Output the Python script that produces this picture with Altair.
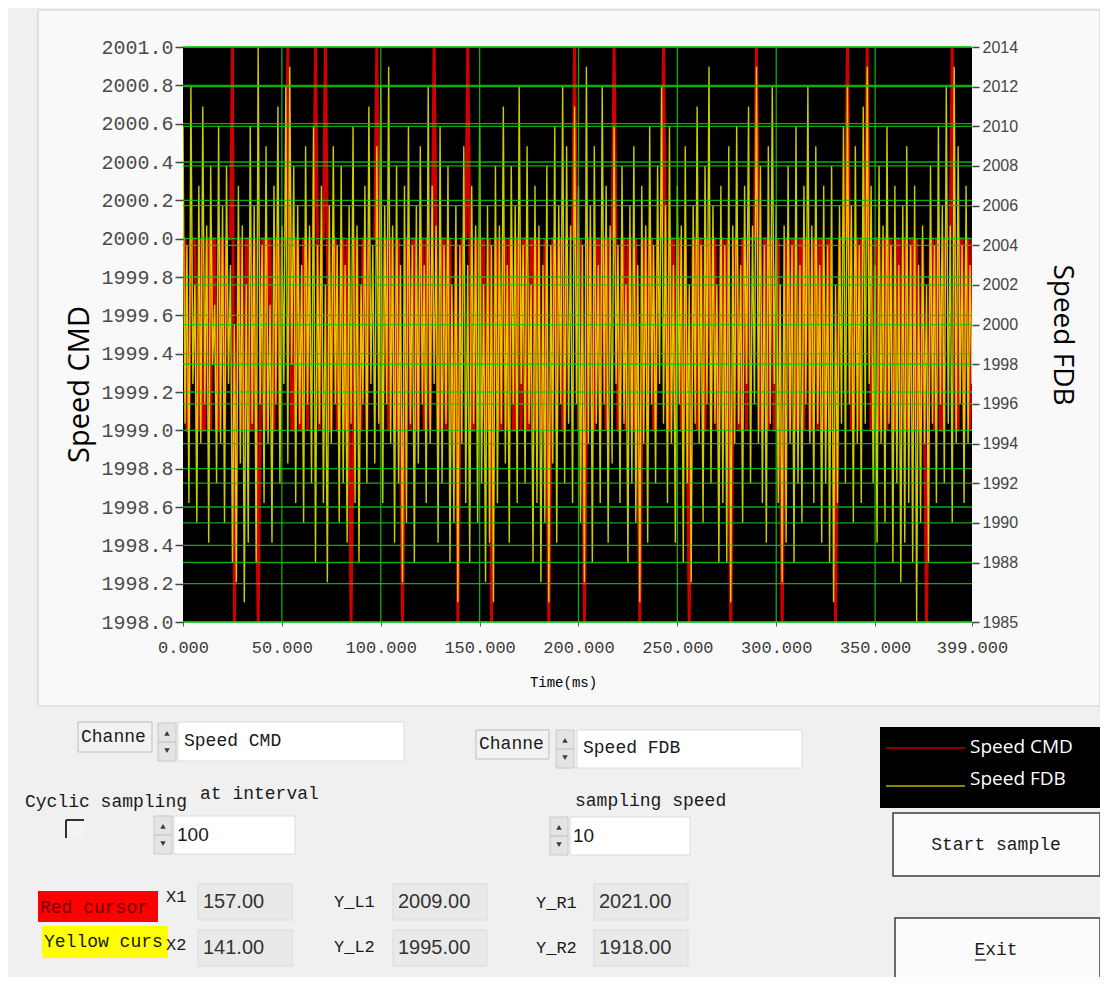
import altair as alt
import pandas as pd

# ---------------- data ----------------
time_ms = list(range(400))

speed_cmd = [
    2000,2000,1999,1999,2000,2000,2000,1999,1999,2000,1999,1999,2000,2000,1999,2000,2000,1999,1999,2000,
    2000,1999,2000,2000,2000,2001,1998,1999,2000,2000,1999,1999,2000,2000,1999,1999,2000,1999,1998,1999,
    2000,2000,1999,2000,2000,1999,1999,2000,2000,1999,2000,2000,2000,2001,2000,1999,1999,2000,2000,1999,
    1999,2000,2000,1999,2000,2000,2000,2001,2000,1999,2000,2000,2001,2000,1999,1999,2000,2000,1999,1999,
    2000,2000,1999,2000,1999,1998,1999,2000,2000,1999,1999,2000,2000,1999,2000,2000,2000,2000,2001,2000,
    1999,1999,2000,2000,1999,2000,2000,1999,1999,2000,1999,1998,1999,2000,2000,1999,2000,2000,1999,1999,
    2000,2000,1999,2000,2000,1999,2000,2001,2000,1999,1999,2000,2000,1999,2000,2000,1999,1999,2000,1998,
    1999,2000,2000,2000,2001,2000,1999,1999,2000,2000,1999,2000,2000,1999,1999,2000,1998,1999,2000,2000,
    1999,1999,2000,2000,1999,2000,2000,1999,1999,2000,2000,1999,2000,2000,1999,1999,2000,2000,1999,2000,
    2000,1999,1999,2000,1999,1998,1999,2000,2000,1999,2000,2000,1999,1999,2000,2000,2000,2000,2001,2000,
    1999,2000,1999,1998,1999,2000,2000,1999,1999,2000,2000,1999,2000,2000,1999,2000,2000,2000,2001,2000,
    1999,1999,2000,2000,1999,2000,2000,1999,1999,2000,1999,1998,1999,2000,2000,1999,2000,2000,1999,1999,
    2000,2000,2000,2001,2000,1999,1999,2000,2000,1999,2000,2000,1999,1999,2000,1999,1998,1999,2000,2000,
    1999,2000,2000,1999,1999,2000,2000,1999,2000,2000,1999,1999,2000,2000,1999,2000,1999,1998,1999,2000,
    2000,1999,1999,2000,2000,1999,2000,2000,2000,2000,2001,2000,1999,1999,2000,2000,1999,2000,2000,1999,
    1999,2000,1999,1998,1999,2000,2000,1999,2000,2000,1999,1999,2000,2000,1999,2000,2000,1999,1999,2000,
    2000,1999,2000,2000,1999,1999,2000,2000,1999,1999,1998,1999,2000,2000,2000,2000,2001,2000,1999,1999,
    2000,2000,1999,2000,2000,2000,2001,2000,1999,1999,2000,2000,1999,1999,2000,2000,1999,2000,2000,1999,
    1999,2000,2000,1999,2000,2000,1999,1999,2000,2000,1999,2000,1999,1999,2000,1999,1998,1999,2000,2000,
    1999,2000,2000,1999,1999,2000,2000,2000,2000,2001,2000,1999,1999,2000,2000,1999,2000,2000,1999,2000,
]

speed_fdb = [
    2010,1995,2004,1991,2012,1997,2002,1990,2007,1994,2011,1996,2005,1989,2008,1998,2001,1992,2010,1994,
    2006,1990,2008,1997,2003,1988,2000,1987,2007,1993,2005,1986,2002,1989,2010,1995,2006,1988,2014,1996,
    2004,1991,2009,1994,2001,1989,2007,1996,2011,1992,2005,1997,2012,1993,2013,1998,2008,1991,2006,1995,
    2003,1990,2009,1996,2005,1992,2010,1988,2004,1995,2007,1991,2002,1987,2006,1994,2009,1996,2004,1990,
    2008,1992,2003,1989,2006,1995,2010,1991,2005,1988,2002,1996,2007,1992,2011,1997,2004,1993,2009,1995,
    2012,1991,2006,1996,2013,1994,2005,1989,2008,1992,2003,1987,2007,1990,2010,1995,2004,1988,2006,1993,
    2009,1996,2003,1991,2012,1994,2007,1997,2005,1989,2010,1992,2004,1995,2008,1988,2002,1990,2006,1986,
    2004,1994,2009,1991,2003,1988,2007,1995,2005,1990,2010,1992,2002,1987,2006,1989,2004,1986,2008,1991,
    2005,1995,2011,1993,2003,1989,2008,1996,2006,1991,2012,1997,2004,1992,2009,1995,2002,1988,2007,1991,
    2005,1987,2003,1990,2008,1986,2004,1993,2010,1989,2006,1996,2012,1992,2009,1995,2005,1991,2011,1996,
    2007,1990,2004,1987,2013,1994,2006,1988,2009,1995,2003,1991,2012,1996,2007,1989,2005,1993,2010,1997,
    2004,1991,2008,1995,2002,1988,2006,1992,2009,1990,2003,1986,2007,1994,2005,1989,2010,1996,2004,1992,
    2008,1997,2012,1995,2006,1991,2010,1994,2003,1989,2007,1996,2005,1988,2009,1992,2002,1987,2006,1995,
    2011,1994,2004,1990,2008,1996,2013,1992,2006,1995,2002,1988,2007,1991,2004,1988,2009,1986,2005,1994,
    2010,1995,2003,1990,2007,1997,2011,1992,2005,1996,2013,1994,2008,1991,2004,1989,2009,1995,2012,1997,
    2006,1991,2002,1987,2005,1989,2008,1994,2004,1988,2010,1992,2003,1990,2007,1996,2012,1994,2005,1991,
    2009,1995,2003,1989,2007,1992,2004,1988,2008,1986,2002,1991,2006,1995,2010,1992,2012,1996,2006,1990,
    2009,1994,2004,1991,2011,1995,2013,1997,2007,1992,2003,1989,2008,1994,2005,1990,2010,1995,2004,1988,
    2007,1992,2003,1987,2006,1989,2009,1991,2004,1988,2007,1985,2003,1990,2005,1994,2002,1988,2008,1995,
    2004,1991,2010,1996,2006,1992,2012,1995,2005,1990,2013,1994,2009,1996,2004,1991,2007,1994,2003,1997,
]

x_ticks = [0, 50, 100, 150, 200, 250, 300, 350, 399]
left_ticks = [1998.0, 1998.2, 1998.4, 1998.6, 1998.8, 1999.0, 1999.2, 1999.4,
              1999.6, 1999.8, 2000.0, 2000.2, 2000.4, 2000.6, 2000.8, 2001.0]
right_ticks = [1985, 1988, 1990, 1992, 1994, 1996, 1998, 2000, 2002, 2004,
               2006, 2008, 2010, 2012, 2014]
series_names = ["Speed CMD", "Speed FDB"]

# ---------------- layout constants ----------------
W, H = 789, 575
OX, OY = 183, 47          # page position of plot origin
MONO = "Liberation Mono"
SANS = "Liberation Sans"
TITLE = "Open Sans"
RED = "#d00000"
YEL = "#e8e800"
GRID = "#14c814"

df = pd.DataFrame({"t": time_ms, "cmd": speed_cmd, "fdb": speed_fdb})
one = pd.DataFrame({"k": [0]})

xs = alt.Scale(domain=[0, 399], nice=False, zero=False)
ysL = alt.Scale(domain=[1998, 2001], nice=False, zero=False)
ysR = alt.Scale(domain=[1985, 2014], nice=False, zero=False)

xaxis = alt.Axis(values=x_ticks, format=".3f", labelFont=MONO, labelFontSize=17,
                 labelColor="#3a3a3a", tickColor="#555555", tickSize=4, labelPadding=13,
                 domain=False, grid=False, labelFlush=False, labelOverlap=False,
                 title="Time(ms)", titleFont=MONO, titleFontSize=14, titleFontWeight="normal",
                 titleColor="#000000", titlePadding=20, titleX=380, zindex=2)
laxis = alt.Axis(orient="left", values=left_ticks, format=".1f", labelFont=MONO, labelFontSize=20,
                 labelColor="#4a4a4a", tickColor="#454545", tickSize=8, tickWidth=1.5,
                 labelPadding=2, domain=False, grid=False, labelFlush=False, labelOverlap=False,
                 title="Speed CMD", titleFont=TITLE, titleFontSize=29, titleFontWeight="normal",
                 titleColor="#000000", titlePadding=6, titleY=337, zindex=2)
raxis = alt.Axis(orient="right", values=right_ticks, format="d", labelFont=SANS, labelFontSize=16,
                 labelColor="#454545", tickColor="#454545", tickSize=7, tickWidth=1.5,
                 labelPadding=3, domain=False, grid=False, labelFlush=False, labelOverlap=False,
                 title="Speed FDB", titleFont=TITLE, titleFontSize=28, titleFontWeight="normal",
                 titleColor="#000000", titlePadding=30, zindex=2)


def px(x):
    return x - OX


def py(y):
    return y - OY


def box(x1, y1, x2, y2, fill, stroke=None, sw=1.0):
    kw = dict(fill=fill)
    if stroke is not None:
        kw.update(stroke=stroke, strokeWidth=sw)
    else:
        kw.update(strokeWidth=0)
    return alt.Chart(one).mark_rect(**kw).encode(
        x=alt.value(px(x1)), x2=alt.value(px(x2)), y=alt.value(py(y1)), y2=alt.value(py(y2)))


def label(x, y, s, font=MONO, size=18, color="#1a1a1a", align="left"):
    return alt.Chart(one).mark_text(align=align, baseline="middle", font=font, fontSize=size,
                                    color=color).encode(
        x=alt.value(px(x)), y=alt.value(py(y)), text=alt.value(s))


def seg(x1, y1, x2, y2, color, sw=1.0):
    return alt.Chart(one).mark_rule(color=color, strokeWidth=sw).encode(
        x=alt.value(px(x1)), x2=alt.value(px(x2)), y=alt.value(py(y1)), y2=alt.value(py(y2)))


def tri(x, y, up=True):
    return alt.Chart(one).mark_point(shape="triangle-up" if up else "triangle-down", filled=True,
                                     size=30, color="#3a3a3a", opacity=1).encode(
        x=alt.value(px(x)), y=alt.value(py(y)))


def spinner(x1, y1, x2, y2):
    cx = (x1 + x2) / 2
    return [box(x1, y1, x2, y2, "#e4e4e4", "#c8c8c8", 1),
            seg(x1, (y1 + y2) / 2, x2, (y1 + y2) / 2, "#bdbdbd", 1),
            tri(cx, y1 + (y2 - y1) * 0.27, True), tri(cx, y1 + (y2 - y1) * 0.73, False)]


layers = []
# chart panel and plot background
layers.append(box(38, 10, 1100, 706, "#f9f9f9", "#d2d2d2", 1.2))
layers.append(alt.Chart(one).mark_rect(fill="black").encode(
    x=alt.value(0), x2=alt.value(W), y=alt.value(0), y2=alt.value(H)))

# data lines
layers.append(alt.Chart(df).mark_line(color=RED, strokeWidth=3.0, clip=True).encode(
    x=alt.X("t:Q", scale=xs, axis=xaxis),
    y=alt.Y("cmd:Q", scale=ysL, axis=laxis)))
layers.append(alt.Chart(df).mark_line(color=YEL, strokeWidth=1.4, opacity=0.88, clip=True).encode(
    x=alt.X("t:Q", scale=xs, axis=xaxis),
    y=alt.Y("fdb:Q", scale=ysR, axis=raxis)))

# grid lines (drawn over the traces as in the picture)
layers.append(alt.Chart(pd.DataFrame({"v": left_ticks})).mark_rule(
    color=GRID, strokeWidth=1.3, opacity=0.85).encode(y=alt.Y("v:Q", scale=ysL, axis=None)))
layers.append(alt.Chart(pd.DataFrame({"v": right_ticks})).mark_rule(
    color=GRID, strokeWidth=1.3, opacity=0.85).encode(y=alt.Y("v:Q", scale=ysR, axis=None)))
layers.append(alt.Chart(pd.DataFrame({"t": x_ticks[1:-1]})).mark_rule(
    color=GRID, strokeWidth=1.3, opacity=0.85).encode(x=alt.X("t:Q", scale=xs, axis=xaxis)))

# legend box
layers.append(box(880, 727, 1100, 808, "#000000"))
layers.append(seg(886, 748, 965, 748, "#c00000", 1.6))
layers.append(seg(886, 786, 965, 786, "#b4b400", 1.6))
layers.append(label(970, 747, series_names[0], font=TITLE, size=19, color="#ffffff"))
layers.append(label(970, 779, series_names[1], font=TITLE, size=19, color="#ffffff"))

# channel selectors
layers.append(box(78, 722, 152, 752, "#f2f2f2", "#bdbdbd", 1))
layers.append(label(81, 737, "Channe"))
layers += spinner(158, 723, 176, 761)
layers.append(box(178, 722, 404, 761, "#ffffff", "#dcdcdc", 1))
layers.append(label(184, 741, "Speed CMD"))

layers.append(box(476, 730, 549, 759, "#f2f2f2", "#bdbdbd", 1))
layers.append(label(479, 744, "Channe"))
layers += spinner(556, 730, 574, 768)
layers.append(box(577, 730, 802, 768, "#ffffff", "#dcdcdc", 1))
layers.append(label(583, 748, "Speed FDB"))

# sampling controls
layers.append(label(25, 802, "Cyclic sampling"))
layers.append(label(200, 794, "at interval"))
layers.append(box(66, 820, 84, 838, "#f3f3f3"))
layers.append(seg(66, 820, 84, 820, "#303030", 2))
layers.append(seg(66, 820, 66, 838, "#303030", 2))
layers += spinner(154, 816, 172, 854)
layers.append(box(174, 816, 295, 854, "#ffffff", "#dcdcdc", 1))
layers.append(label(177, 835, "100", font=SANS, size=19))

layers.append(label(575, 801, "sampling speed"))
layers += spinner(550, 817, 568, 855)
layers.append(box(570, 817, 690, 855, "#ffffff", "#dcdcdc", 1))
layers.append(label(573, 836, "10", font=SANS, size=19))

# buttons
layers.append(box(893, 813, 1100, 876, "#fbfbfb", "#3c3c3c", 1.5))
layers.append(label(996, 845, "Start sample", align="center"))
layers.append(box(895, 918, 1100, 982, "#fbfbfb", "#3c3c3c", 1.5))
layers.append(label(996, 950, "Exit", align="center"))
layers.append(seg(975, 960, 986, 960, "#1a1a1a", 1.2))

# cursors
layers.append(box(38, 891, 158, 922, "#ff0000"))
layers.append(label(40, 908, "Red cursor", color="#700000"))
layers.append(box(42, 926, 168, 958, "#ffff00"))
layers.append(label(44, 942, "Yellow curs"))

layers.append(label(166, 897, "X1", size=17))
layers.append(box(198, 884, 292, 920, "#e9e9e9", "#dadada", 1))
layers.append(label(203, 902, "157.00", font=SANS, size=20, color="#333333"))
layers.append(label(166, 945, "X2", size=17))
layers.append(box(198, 930, 292, 966, "#e9e9e9", "#dadada", 1))
layers.append(label(203, 948, "141.00", font=SANS, size=20, color="#333333"))

layers.append(label(334, 902, "Y_L1", size=17))
layers.append(box(393, 884, 487, 920, "#e9e9e9", "#dadada", 1))
layers.append(label(398, 902, "2009.00", font=SANS, size=20, color="#333333"))
layers.append(label(334, 947, "Y_L2", size=17))
layers.append(box(393, 930, 487, 966, "#e9e9e9", "#dadada", 1))
layers.append(label(398, 948, "1995.00", font=SANS, size=20, color="#333333"))

layers.append(label(536, 903, "Y_R1", size=17))
layers.append(box(594, 884, 688, 920, "#e9e9e9", "#dadada", 1))
layers.append(label(599, 902, "2021.00", font=SANS, size=20, color="#333333"))
layers.append(label(536, 948, "Y_R2", size=17))
layers.append(box(594, 930, 688, 966, "#e9e9e9", "#dadada", 1))
layers.append(label(599, 948, "1918.00", font=SANS, size=20, color="#333333"))

chart = alt.layer(*layers).resolve_scale(y="independent").properties(
    width=W, height=H,
    padding={"left": OX - 8, "top": OY - 8, "right": 128, "bottom": 355},
    autosize=alt.AutoSizeParams(type="none"),
    background="#f0f0f0",
).configure_view(strokeWidth=0, fill=None)

chart.save("out.html", embed_options={"renderer": "svg", "actions": False})
